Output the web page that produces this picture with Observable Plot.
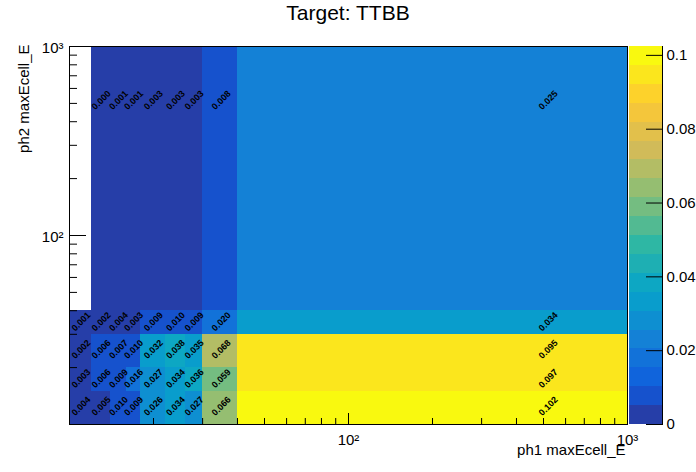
<!DOCTYPE html>
<html>
<head>
<meta charset="utf-8">
<script src="https://cdn.jsdelivr.net/npm/d3@7"></script>
<script src="https://cdn.jsdelivr.net/npm/@observablehq/plot@0.6"></script>
<style>
  html, body { margin: 0; padding: 0; background: #fff; }
  #wrap { position: relative; width: 696px; height: 472px; font-family: "Liberation Sans", Arial, sans-serif; }
  #title { position: absolute; left: 0; top: 0; width: 696px; text-align: center; font-size: 21px; line-height: 25px; color: #000; }
  #main { position: absolute; left: 0; top: 0; }
  #cbar { position: absolute; left: 629px; top: 0; }
</style>
</head>
<body>
<div id="wrap">
  <div id="main"></div>
  <div id="cbar"></div>
  <div id="title">Target: TTBB</div>
</div>
<script>
// ---- data ----
const titleText = "Target: TTBB";
const xTitle = "ph1 maxEcell_E";
const yTitle = "ph2 maxEcell_E";
const xEdges = [10, 12, 14, 16, 18, 22, 26, 30, 40, 1000];
const yEdges = [10, 15, 20, 30, 40, 1000];
// bin contents, one array per y bin (bottom to top); null = empty bin
const row_10_15   = [0.004, 0.005, 0.010, 0.009, 0.026, 0.034, 0.027, 0.066, 0.102];
const row_15_20   = [0.003, 0.006, 0.009, 0.016, 0.027, 0.034, 0.036, 0.059, 0.097];
const row_20_30   = [0.002, 0.006, 0.007, 0.010, 0.032, 0.038, 0.035, 0.068, 0.095];
const row_30_40   = [0.001, 0.002, 0.004, 0.003, 0.009, 0.010, 0.009, 0.020, 0.034];
const row_40_1000 = [null, 0.0004, 0.001, 0.001, 0.003, 0.003, 0.003, 0.008, 0.025];
const rows = [row_10_15, row_15_20, row_20_30, row_30_40, row_40_1000];
const zMax = 0.1024;
const nContours = 20;
const xMajor = [10, 100, 1000];
const xMinor = [20, 30, 40, 50, 60, 70, 80, 90, 200, 300, 400, 500, 600, 700, 800, 900];
const yMajor = [10, 100, 1000];
const yMinor = [20, 30, 40, 50, 60, 70, 80, 90, 200, 300, 400, 500, 600, 700, 800, 900];
const logLabels = {100: "10²", 1000: "10³"};
const cbTicks = [0, 0.02, 0.04, 0.06, 0.08, 0.1];

// ---- ROOT kBird palette (style) ----
const stops = [0.0000, 0.1250, 0.2500, 0.3750, 0.5000, 0.6250, 0.7500, 0.8750, 1.0000];
const red   = [0.2082, 0.0592, 0.0780, 0.0232, 0.1802, 0.5301, 0.8186, 0.9956, 0.9764];
const green = [0.1664, 0.3599, 0.5041, 0.6419, 0.7178, 0.7492, 0.7328, 0.7862, 0.9832];
const blue  = [0.5293, 0.8684, 0.8385, 0.7914, 0.6425, 0.4662, 0.3499, 0.1968, 0.0539];
function gradient(n) {
  const cols = [];
  for (let g = 1; g < stops.length; g++) {
    const nG = Math.floor(n * stops[g]) - Math.floor(n * stops[g - 1]);
    for (let c = 0; c < nG; c++) {
      const r = red[g-1] + c * (red[g] - red[g-1]) / nG;
      const gg = green[g-1] + c * (green[g] - green[g-1]) / nG;
      const b = blue[g-1] + c * (blue[g] - blue[g-1]) / nG;
      cols.push(d3.rgb(r * 255, gg * 255, b * 255).formatHex());
    }
  }
  return cols;
}
const pal = gradient(255);
const bandColors = d3.range(nContours).map(k => pal[Math.floor((k + 0.99) * pal.length / nContours)]);
const w = zMax / nContours;
const thresholds = d3.range(1, nContours).map(k => (k - 0.01) * w);

const cells = [];
rows.forEach((row, j) => row.forEach((v, i) => {
  if (v == null) return;
  cells.push({x1: xEdges[i], x2: xEdges[i+1], y1: yEdges[j], y2: yEdges[j+1],
              xc: (xEdges[i] + xEdges[i+1]) / 2, yc: (yEdges[j] + yEdges[j+1]) / 2, v});
}));

const font = "Liberation Sans, Arial, Helvetica, sans-serif";
const colorScale = {type: "threshold", domain: thresholds, range: bandColors};

const main = Plot.plot({
  width: 696, height: 472,
  marginLeft: 69, marginRight: 69, marginTop: 46, marginBottom: 48,
  style: {fontFamily: font, fontSize: "15px", background: "transparent", color: "#000"},
  x: {type: "log", domain: [10, 1000]},
  y: {type: "log", domain: [10, 1000]},
  color: colorScale,
  marks: [
    Plot.rect(cells, {x1: "x1", x2: "x2", y1: "y1", y2: "y2", fill: "v", inset: 0, shapeRendering: "crispEdges"}),
    Plot.text(cells, {x: "xc", y: "yc", text: d => d.v.toFixed(3), rotate: -45, fontSize: 9, fontWeight: "bold", fill: "#000"}),
    Plot.frame({stroke: "#000"}),
    Plot.axisX(xMajor, {anchor: "bottom", tickSize: -11, tickFormat: () => "", label: null}),
    Plot.axisX(xMajor, {anchor: "bottom", tickSize: 0, tickPadding: 16, lineAnchor: "middle", tickFormat: d => logLabels[d] || "", fontSize: 15, label: null}),
    Plot.axisX(xMinor, {anchor: "bottom", tickSize: -6, tickFormat: () => "", label: null}),
    Plot.axisY(yMajor, {anchor: "left", tickSize: -17, tickFormat: () => "", label: null}),
    Plot.axisY(yMajor, {anchor: "left", tickSize: 0, tickPadding: 6, dy: 2, tickFormat: d => logLabels[d] || "", fontSize: 15, label: null}),
    Plot.axisY(yMinor, {anchor: "left", tickSize: -8, tickFormat: () => "", label: null}),
    Plot.text([xTitle], {frameAnchor: "bottom-right", text: d => d, textAnchor: "end", lineAnchor: "middle", dx: -2, dy: 26, fontSize: 15}),
    Plot.text([yTitle], {frameAnchor: "top-left", text: d => d, textAnchor: "end", lineAnchor: "middle", rotate: -90, dx: -45, dy: -2, fontSize: 15})
  ]
});
document.getElementById("main").appendChild(main);

const bands = d3.range(nContours).map(k => ({lo: k * w, hi: (k + 1) * w, mid: (k + 0.5) * w}));
const cbar = Plot.plot({
  width: 67, height: 472,
  marginLeft: 0, marginRight: 34, marginTop: 46, marginBottom: 48,
  style: {fontFamily: font, fontSize: "15px", background: "transparent", color: "#000", overflow: "visible"},
  y: {domain: [0, zMax]},
  color: colorScale,
  marks: [
    Plot.rect(bands, {y1: "lo", y2: "hi", fill: "mid", shapeRendering: "crispEdges"}),
    Plot.frame({anchor: "right", stroke: "#000"}),
    Plot.axisY(cbTicks, {anchor: "right", tickSize: -17, tickPadding: 21, tickFormat: d => d === 0 ? "0" : String(+d.toFixed(2)), fontSize: 15, label: null})
  ]
});
document.getElementById("cbar").appendChild(cbar);
document.getElementById("title").textContent = titleText;
</script>
</body>
</html>
